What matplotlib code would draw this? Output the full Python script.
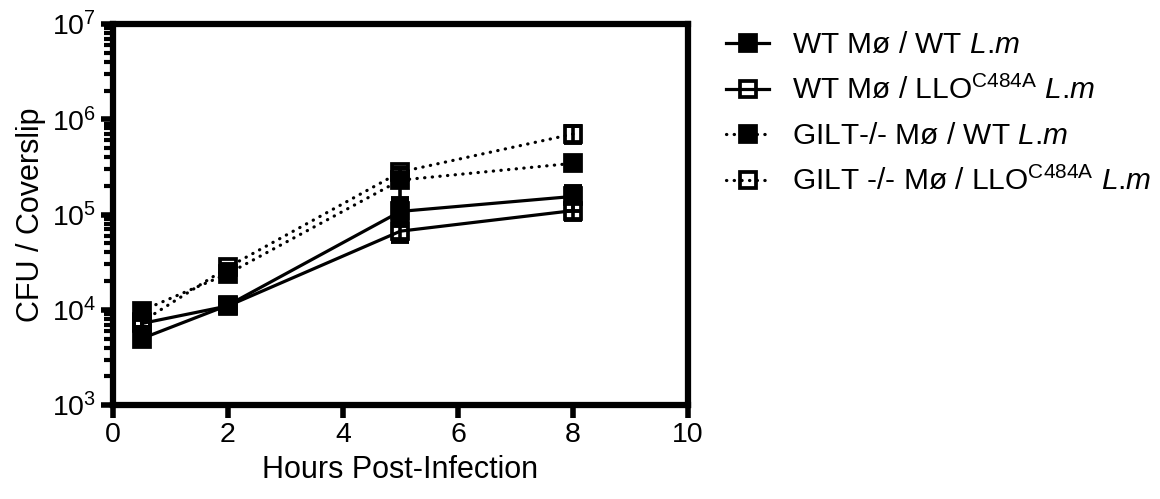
import numpy as np
import matplotlib
matplotlib.use('Agg')
import matplotlib.pyplot as plt
import matplotlib.ticker as mticker

plt.rcParams['font.family'] = 'Liberation Sans'
plt.rcParams['mathtext.fontset'] = 'custom'
plt.rcParams['mathtext.rm'] = 'Liberation Sans'
plt.rcParams['mathtext.it'] = 'Liberation Sans:italic'

hours = [0.5, 2, 5, 8]

# CFU per coverslip, mean and error
wt_wt = [5.0e3, 1.12e4, 1.08e5, 1.55e5]
wt_wt_err = [400, 800, 3.2e4, 4.5e4]
wt_llo = [7.2e3, 1.1e4, 6.7e4, 1.1e5]
wt_llo_err = [600, 700, 1.6e4, 2.3e4]
gilt_wt = [9.8e3, 2.4e4, 2.3e5, 3.45e5]
gilt_wt_err = [600, 1.5e3, 8.0e4, 2.0e4]
gilt_llo = [7.5e3, 2.8e4, 2.8e5, 7.0e5]
gilt_llo_err = [900, 2.0e3, 3.0e4, 1.4e5]

labels = ['WT Mø / WT $\\mathit{L}$.$\\mathit{m}$',
          'WT Mø / LLO$^{\\mathrm{C484A}}$ $\\mathit{L}$.$\\mathit{m}$',
          'GILT-/- Mø / WT $\\mathit{L}$.$\\mathit{m}$',
          'GILT -/- Mø / LLO$^{\\mathrm{C484A}}$ $\\mathit{L}$.$\\mathit{m}$']

dotted = (0, (0.1, 2.3))

fig = plt.figure(figsize=(11.6, 4.99), dpi=100)
ax = fig.add_axes([0.0974, 0.188, 0.4957, 0.764])

series = [(wt_wt, wt_wt_err, '-', 'k'),
          (wt_llo, wt_llo_err, '-', 'none'),
          (gilt_wt, gilt_wt_err, dotted, 'k'),
          (gilt_llo, gilt_llo_err, dotted, 'none')]

handles = []
for (y, err, ls, fc), lab in zip(series, labels):
    ax.errorbar(hours, y, yerr=err, fmt='none', ecolor='k', elinewidth=2.6,
                capsize=6.5, capthick=2.8)
    h, = ax.plot(hours, y, color='k', lw=2.3, ls=ls, dash_capstyle='round',
                 marker='s', ms=12, mfc=fc, mec='k', mew=2.7, label=lab)
    handles.append(h)

ax.set_yscale('log')
ax.set_ylim(1e3, 1e7)
ax.set_xlim(0, 10)
ax.set_xticks([0, 2, 4, 6, 8, 10])
ax.yaxis.set_major_locator(mticker.LogLocator(base=10, numticks=10))
ax.yaxis.set_minor_locator(mticker.LogLocator(base=10, subs=np.arange(2, 10), numticks=10))
ax.yaxis.set_minor_formatter(mticker.NullFormatter())
ax.yaxis.set_major_formatter(mticker.FuncFormatter(
    lambda v, p: '$\\mathregular{10^{%d}}$' % round(np.log10(v))))

for s in ax.spines.values():
    s.set_linewidth(4.5)
ax.tick_params(axis='both', which='major', direction='out', length=9, width=4,
               labelsize=20.5, pad=3)
ax.tick_params(axis='y', which='minor', direction='out', length=6.5, width=3)
ax.tick_params(axis='x', which='minor', bottom=False)

ax.set_xlabel('Hours Post-Infection', fontsize=22, labelpad=5)
ax.set_ylabel('CFU / Coverslip', fontsize=22, labelpad=4)

leg = ax.legend(handles=handles, loc='upper left', bbox_to_anchor=(0.626, 0.937),
                bbox_transform=fig.transFigure, frameon=False, fontsize=21.5,
                handlelength=1.45, handletextpad=0.75, labelspacing=0.56,
                borderaxespad=0, borderpad=0)

fig.savefig('out.png', dpi=100)
